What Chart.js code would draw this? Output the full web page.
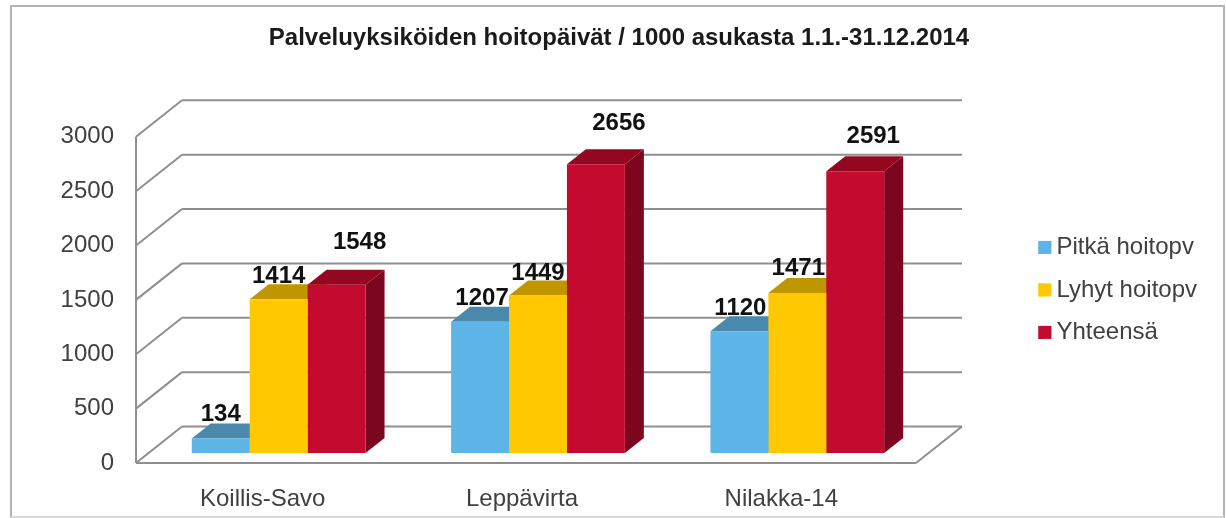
<!DOCTYPE html>
<html>
<head>
<meta charset="utf-8">
<title>Palveluyksiköiden hoitopäivät</title>
<script src="https://cdn.jsdelivr.net/npm/chart.js@4"></script>
<style>
  html, body { margin: 0; padding: 0; background: #fff; }
  #wrap { position: relative; width: 1226px; height: 518px; overflow: hidden; }
  #frame { position: absolute; left: 10px; top: 5px; width: 1215px; height: 513px;
           border: 2px solid #b4b4b4; border-bottom-color: #d8d8d8; box-sizing: border-box; }
  canvas { position: absolute; left: 0; top: 0; filter: blur(0.5px); }
</style>
</head>
<body>
<div id="wrap">
  <div id="frame"></div>
  <canvas id="hoitoChart" width="1226" height="518"></canvas>
</div>
<script>
const categories = ["Koillis-Savo", "Leppävirta", "Nilakka-14"];
const seriesNames = ["Pitkä hoitopv", "Lyhyt hoitopv", "Yhteensä"];
const pitka = [134, 1207, 1120];
const lyhyt = [1414, 1449, 1471];
const yhteensa = [1548, 2656, 2591];
const yTicks = [0, 500, 1000, 1500, 2000, 2500, 3000];

const frontColors = ["#5cb5e6", "#ffc800", "#c40a2e"];
const topColors = ["#4a88ac", "#bf9600", "#930720"];
const sideColors = ["#3f7591", "#a07e00", "#7d061f"];

// How far the bar depth and the wall planes sit from the value plane
const depthX = 19, depthY = 15;
const wall = { frontX: 136, frontDy: 10, backX: 182, backDy: -26.5, backRight: 962, frontRight: 916 };

// Value labels do not sit straight over their bars in the original
const labelShift = [
  [[0, -24], [2, -23], [1, -23]],
  [[0, -23], [0, -22], [1, -25]],
  [[23, -42], [23, -41], [18, -35]],
];

function line(ctx, x1, y1, x2, y2) {
  ctx.beginPath();
  ctx.moveTo(x1, y1);
  ctx.lineTo(x2, y2);
  ctx.stroke();
}

function poly(ctx, pts, color) {
  ctx.fillStyle = color;
  ctx.beginPath();
  pts.forEach((p, i) => (i ? ctx.lineTo(p[0], p[1]) : ctx.moveTo(p[0], p[1])));
  ctx.closePath();
  ctx.fill();
}

// Back wall, side wall and floor
const wallsPlugin = {
  id: "walls",
  beforeDatasetsDraw(chart) {
    const ctx = chart.ctx;
    const y = chart.scales.y;
    ctx.save();
    ctx.strokeStyle = "#8f8f8f";
    ctx.lineWidth = 2;
    yTicks.forEach((v) => {
      const py = y.getPixelForValue(v);
      line(ctx, wall.frontX, py + wall.frontDy, wall.backX, py + wall.backDy);
      line(ctx, wall.backX, py + wall.backDy, wall.backRight, py + wall.backDy);
    });
    const y0 = y.getPixelForValue(0);
    const y3000 = y.getPixelForValue(3000);
    line(ctx, wall.frontX, y3000 + wall.frontDy, wall.frontX, y0 + wall.frontDy);
    line(ctx, wall.frontX, y0 + wall.frontDy, wall.frontRight, y0 + wall.frontDy);
    line(ctx, wall.frontRight, y0 + wall.frontDy, wall.backRight, y0 + wall.backDy);
    ctx.restore();
  },
};

// Top and side faces of the bars, the library paints the fronts over them
const depthPlugin = {
  id: "depth",
  beforeDatasetsDraw(chart) {
    const ctx = chart.ctx;
    chart.data.datasets.forEach((ds, d) => {
      chart.getDatasetMeta(d).data.forEach((bar) => {
        const left = bar.x - bar.width / 2;
        const right = bar.x + bar.width / 2;
        poly(ctx, [[right, bar.y], [right + depthX, bar.y - depthY], [right + depthX, bar.base - depthY], [right, bar.base]], sideColors[d]);
        poly(ctx, [[left, bar.y], [left + depthX, bar.y - depthY], [right + depthX, bar.y - depthY], [right, bar.y]], topColors[d]);
      });
    });
  },
};

// Bold numbers above the bars
const valuePlugin = {
  id: "values",
  afterDatasetsDraw(chart) {
    const ctx = chart.ctx;
    ctx.save();
    ctx.font = "bold 24px 'Liberation Sans'";
    ctx.fillStyle = "#111";
    ctx.textAlign = "center";
    ctx.textBaseline = "middle";
    chart.data.datasets.forEach((ds, d) => {
      chart.getDatasetMeta(d).data.forEach((bar, i) => {
        const s = labelShift[d][i];
        ctx.fillText(ds.data[i], bar.x + s[0], bar.y + s[1]);
      });
    });
    ctx.restore();
  },
};

// Legend keys sit closer to their text than the legend allows, so it gets a
// narrow box and the rest of the square is painted here
const legendKeyPlugin = {
  id: "legendKeys",
  afterDraw(chart) {
    const ctx = chart.ctx;
    chart.legend.legendHitBoxes.forEach((box, i) => {
      ctx.fillStyle = frontColors[i];
      ctx.fillRect(box.left, box.top + (box.height - 13) / 2, 13, 13);
    });
  },
};

function initChart() {
  const ctx = document.getElementById("hoitoChart");
  const values = [pitka, lyhyt, yhteensa];

  new Chart(ctx, {
    type: "bar",
    data: {
      labels: categories,
      datasets: seriesNames.map((name, i) => ({
        label: name,
        data: values[i],
        backgroundColor: frontColors[i],
        borderWidth: 0,
        categoryPercentage: 0.67,
        barPercentage: 1,
      })),
    },
    options: {
      responsive: false,
      animation: false,
      layout: { padding: { left: 31, right: 19, top: 0, bottom: 0 } },
      scales: {
        x: {
          grid: { display: false },
          border: { display: false },
          afterFit: (scale) => { scale.height = 65; },
          ticks: { color: "#404040", font: { family: "Liberation Sans", size: 24 }, labelOffset: -16, padding: 24, maxRotation: 0 },
        },
        y: {
          min: 0,
          max: 3000,
          afterFit: (scale) => { scale.width = 118; },
          afterBuildTicks: (scale) => { scale.ticks = yTicks.map((v) => ({ value: v })); },
          grid: { display: false },
          border: { display: false },
          ticks: {
            color: "#404040",
            font: { family: "Liberation Sans", size: 24 },
            labelOffset: 10,
            padding: 27,
            callback: (v) => String(v),
          },
        },
        gap: {
          position: "right",
          display: true,
          grid: { display: false },
          border: { display: false },
          ticks: { display: false },
          afterFit: (scale) => { scale.width = 93; },
        },
      },
      plugins: {
        title: {
          display: true,
          text: "Palveluyksiköiden hoitopäivät / 1000 asukasta 1.1.-31.12.2014",
          color: "#1a1a1a",
          font: { family: "Liberation Sans", size: 24, weight: "bold" },
          padding: { top: 24, bottom: 74 },
        },
        legend: {
          position: "right",
          fullSize: false,
          labels: {
            boxWidth: 6,
            boxHeight: 13,
            padding: 18.5,
            color: "#404040",
            font: { family: "Liberation Sans", size: 24 },
          },
        },
        tooltip: { enabled: false },
      },
    },
    plugins: [wallsPlugin, depthPlugin, valuePlugin, legendKeyPlugin],
  });
}

document.addEventListener("DOMContentLoaded", initChart);
</script>
</body>
</html>
